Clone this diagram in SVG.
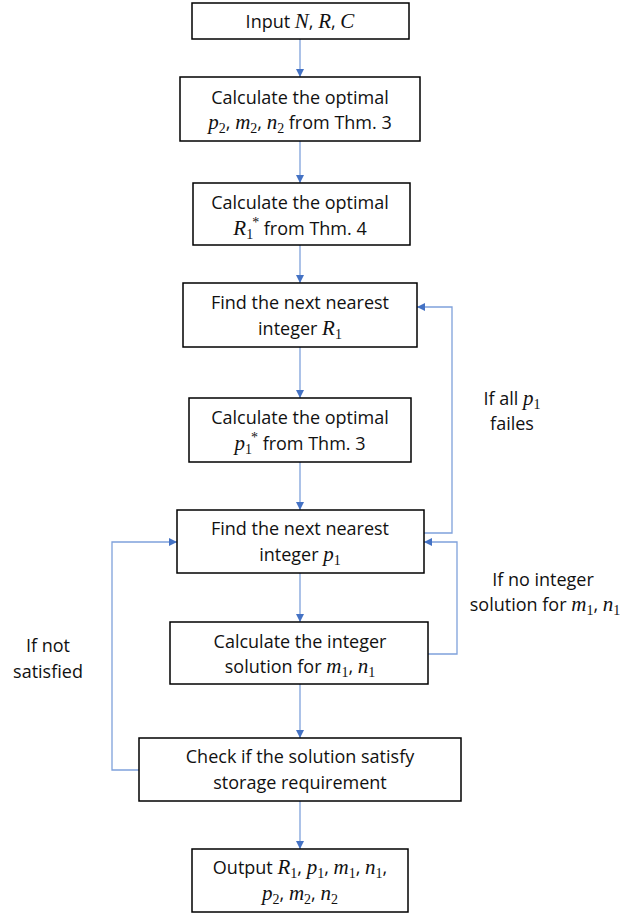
<svg xmlns="http://www.w3.org/2000/svg" width="626" height="920" viewBox="0 0 626 920">
<style>
.box{fill:#fff;stroke:#000;stroke-width:1.5}
.t{font-family:"Open Sans","Liberation Sans",sans-serif;font-size:18px;fill:#111;text-anchor:middle}
.m{font-family:"Liberation Serif","DejaVu Serif",serif;font-style:italic;font-size:21px}
.s{font-family:"Liberation Serif","DejaVu Serif",serif;font-style:normal;font-size:14px}
.c{fill:none;stroke:#7FA1DB;stroke-width:1.3}
</style>
<defs>
<marker id="ah" markerUnits="userSpaceOnUse" markerWidth="10" markerHeight="10" refX="8" refY="4" orient="auto">
<path d="M0,0 L8,4 L0,8 z" fill="#4472C4"/>
</marker>
</defs>
<rect width="626" height="920" fill="#fff"/>
<g id="connectors">
<line class="c" x1="300" y1="39" x2="300" y2="77" marker-end="url(#ah)"/>
<line class="c" x1="300" y1="141" x2="300" y2="183" marker-end="url(#ah)"/>
<line class="c" x1="300" y1="245" x2="300" y2="283" marker-end="url(#ah)"/>
<line class="c" x1="300" y1="347" x2="300" y2="398" marker-end="url(#ah)"/>
<line class="c" x1="300" y1="462" x2="300" y2="510" marker-end="url(#ah)"/>
<line class="c" x1="300" y1="573" x2="300" y2="622" marker-end="url(#ah)"/>
<line class="c" x1="300" y1="684" x2="300" y2="738" marker-end="url(#ah)"/>
<line class="c" x1="300" y1="801" x2="300" y2="849" marker-end="url(#ah)"/>
<polyline class="c" points="424,533 452,533 452,307 417,307" marker-end="url(#ah)"/>
<polyline class="c" points="428,654 457,654 457,542 424,542" marker-end="url(#ah)"/>
<polyline class="c" points="139,770 112,770 112,542 177,542" marker-end="url(#ah)"/>
</g>
<g id="n1"><rect class="box" x="192" y="3" width="217" height="36"/>
<text class="t" x="300" y="28">Input <tspan class="m">N</tspan>, <tspan class="m">R</tspan>, <tspan class="m">C</tspan></text></g>
<g id="n2"><rect class="box" x="180" y="77" width="240" height="64"/>
<text class="t" x="300" y="104">Calculate the optimal</text>
<text class="t" x="300" y="129"><tspan class="m">p</tspan><tspan class="s" dy="4">2</tspan><tspan dy="-4">, </tspan><tspan class="m">m</tspan><tspan class="s" dy="4">2</tspan><tspan dy="-4">, </tspan><tspan class="m">n</tspan><tspan class="s" dy="4">2</tspan><tspan dy="-4"> from Thm. 3</tspan></text></g>
<g id="n3"><rect class="box" x="193" y="183" width="217" height="62"/>
<text class="t" x="300" y="209">Calculate the optimal</text>
<text class="t" x="300" y="235"><tspan class="m">R</tspan><tspan class="s" dy="4">1</tspan><tspan class="s" dx="-1" dy="-12">*</tspan><tspan dy="8"> from Thm. 4</tspan></text></g>
<g id="n4"><rect class="box" x="183" y="283" width="234" height="64"/>
<text class="t" x="300" y="309">Find the next nearest</text>
<text class="t" x="300" y="335">integer <tspan class="m">R</tspan><tspan class="s" dy="4">1</tspan></text></g>
<g id="n5"><rect class="box" x="189" y="398" width="222" height="64"/>
<text class="t" x="300" y="424">Calculate the optimal</text>
<text class="t" x="300" y="450"><tspan class="m">p</tspan><tspan class="s" dy="4">1</tspan><tspan class="s" dx="-1" dy="-12">*</tspan><tspan dy="8"> from Thm. 3</tspan></text></g>
<g id="n6"><rect class="box" x="177" y="510" width="247" height="63"/>
<text class="t" x="300" y="535">Find the next nearest</text>
<text class="t" x="300" y="561">integer <tspan class="m">p</tspan><tspan class="s" dy="4">1</tspan></text></g>
<g id="n7"><rect class="box" x="170" y="622" width="258" height="62"/>
<text class="t" x="300" y="648">Calculate the integer</text>
<text class="t" x="300" y="673">solution for <tspan class="m">m</tspan><tspan class="s" dy="4">1</tspan><tspan dy="-4">, </tspan><tspan class="m">n</tspan><tspan class="s" dy="4">1</tspan></text></g>
<g id="n8"><rect class="box" x="139" y="738" width="322" height="63"/>
<text class="t" x="300" y="763">Check if the solution satisfy</text>
<text class="t" x="300" y="789">storage requirement</text></g>
<g id="n9"><rect class="box" x="192" y="849" width="216" height="63"/>
<text class="t" x="300" y="874">Output <tspan class="m">R</tspan><tspan class="s" dy="4">1</tspan><tspan dy="-4">, </tspan><tspan class="m">p</tspan><tspan class="s" dy="4">1</tspan><tspan dy="-4">, </tspan><tspan class="m">m</tspan><tspan class="s" dy="4">1</tspan><tspan dy="-4">, </tspan><tspan class="m">n</tspan><tspan class="s" dy="4">1</tspan><tspan dy="-4">,</tspan></text>
<text class="t" x="300" y="900"><tspan class="m">p</tspan><tspan class="s" dy="4">2</tspan><tspan dy="-4">, </tspan><tspan class="m">m</tspan><tspan class="s" dy="4">2</tspan><tspan dy="-4">, </tspan><tspan class="m">n</tspan><tspan class="s" dy="4">2</tspan></text></g>
<g id="labels">
<text class="t" x="512" y="405">If all <tspan class="m">p</tspan><tspan class="s" dy="4">1</tspan></text>
<text class="t" x="512" y="430">failes</text>
<text class="t" x="543" y="586">If no integer</text>
<text class="t" x="545" y="611">solution for <tspan class="m">m</tspan><tspan class="s" dy="4">1</tspan><tspan dy="-4">, </tspan><tspan class="m">n</tspan><tspan class="s" dy="4">1</tspan></text>
<text class="t" x="48" y="652">If not</text>
<text class="t" x="48" y="678">satisfied</text>
</g>
</svg>
